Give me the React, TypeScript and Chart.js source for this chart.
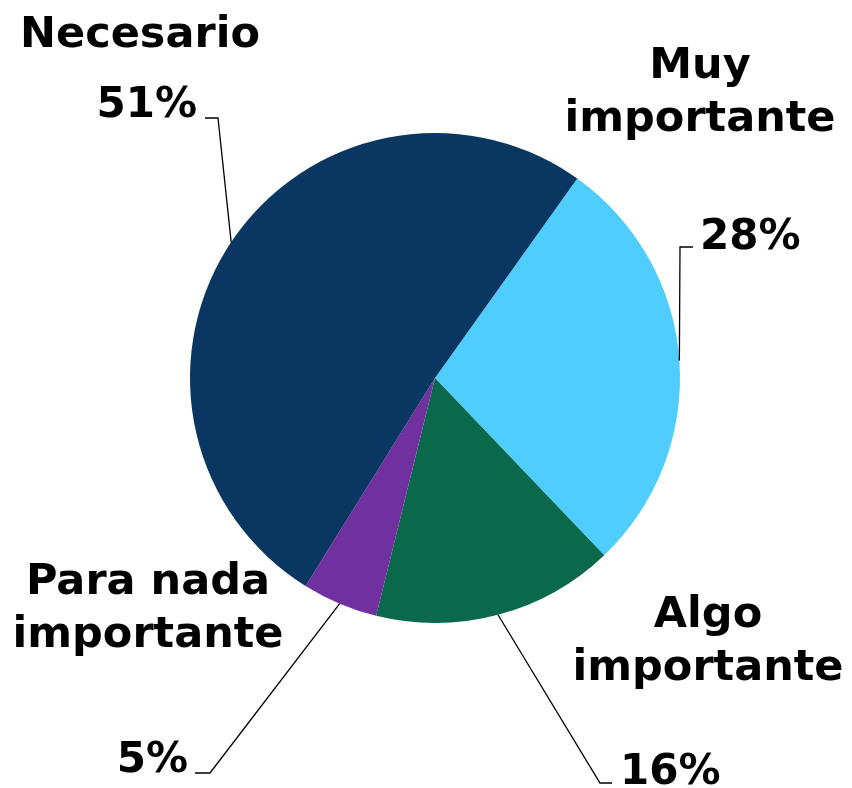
import React, { useEffect, useRef } from "react";
import { Chart, registerables } from "chart.js";

Chart.register(...registerables);

const categories = ["Muy importante", "Algo importante", "Para nada importante", "Necesario"];
const values = [28, 16, 5, 51];
const percentLabels = ["28%", "16%", "5%", "51%"];
const colors = ["#4fcdfe", "#0a684b", "#7030a0", "#0a3761"];

// label layout: name lines, name center (last baseline), percent anchor, leader elbow
const nameLines = [["Muy", "importante"], ["Algo", "importante"], ["Para nada", "importante"], ["Necesario"]];
const nameCenters = [[700, 131], [708, 680], [148, 647], [140, 47]];
const pctPos = [[700, 249, "left"], [620, 784, "left"], [188, 772, "right"], [197, 117, "right"]];
const elbows = [[[693, 247], [680, 247]], [[612, 783], [600, 783]], [[195, 773], [210, 773]], [[205, 118], [218, 118]]];

const FONT = "'DejaVu Sans', sans-serif";

const labelPlugin = {
  id: "pieLabels",
  afterDatasetsDraw(chart: any) {
    const ctx = chart.ctx;
    const meta = chart.getDatasetMeta(0);
    ctx.save();
    meta.data.forEach((arc: any, i: number) => {
      const p = arc.getProps(["x", "y", "startAngle", "endAngle", "outerRadius"], true);
      const mid = (p.startAngle + p.endAngle) / 2;
      const ex = p.x + Math.cos(mid) * p.outerRadius;
      const ey = p.y + Math.sin(mid) * p.outerRadius;
      const [a, b] = elbows[i];
      ctx.strokeStyle = "#000";
      ctx.lineWidth = 1.3;
      ctx.beginPath();
      ctx.moveTo(a[0], a[1]);
      ctx.lineTo(b[0], b[1]);
      ctx.lineTo(ex, ey);
      ctx.stroke();

      ctx.fillStyle = "#000";
      ctx.font = `bold 42px ${FONT}`;
      ctx.textBaseline = "alphabetic";
      const [px, py, al] = pctPos[i] as any;
      ctx.textAlign = al;
      ctx.fillText(percentLabels[i], px, py);

      ctx.font = `bold 43px ${FONT}`;
      const lines = nameLines[i];
      const [cx, cy] = nameCenters[i];
      ctx.textAlign = "center";
      lines.forEach((ln, k) => {
        const y = cy - (lines.length - 1 - k) * 53;
        ctx.fillText(ln, cx, y);
      });
    });
    ctx.restore();
  },
};

export default function App() {
  const ref = useRef<HTMLCanvasElement>(null);
  useEffect(() => {
    document.body.style.margin = "0";
    const chart = new Chart(ref.current!, {
      type: "pie",
      data: {
        labels: categories,
        datasets: [{ data: values, backgroundColor: colors, borderWidth: 0 }],
      },
      options: {
        responsive: false,
        animation: false,
        rotation: 35.5,
        layout: { padding: { left: 190, right: 172, top: 133, bottom: 165 } },
        plugins: { legend: { display: false }, tooltip: { enabled: false } },
      },
      plugins: [labelPlugin],
    });
    return () => chart.destroy();
  }, []);
  return <canvas ref={ref} width={852} height={788} style={{ display: "block" }} />;
}
